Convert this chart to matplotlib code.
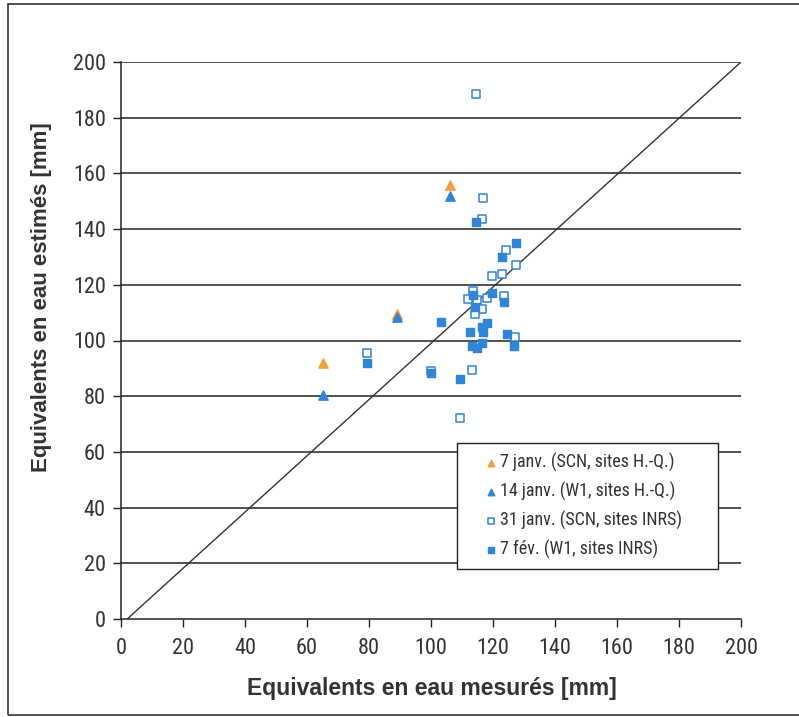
import matplotlib
matplotlib.use('Agg')
import matplotlib.pyplot as plt
from matplotlib.patches import Rectangle
from matplotlib import font_manager

# 7 janv. (SCN, sites H.-Q.)
jan7_x = [65, 89, 106]
jan7_y = [92, 109.5, 156]
# 14 janv. (W1, sites H.-Q.)
jan14_x = [65, 89, 106]
jan14_y = [80.5, 108.5, 152]
# 31 janv. (SCN, sites INRS)
jan31_x = [114.6, 116.9, 116.6, 124.1, 127.4, 119.6, 122.8, 113.6, 112.0, 118.0,
           123.6, 114.9, 116.5, 114.1, 127.1, 79.3, 100.0, 113.1, 109.4]
jan31_y = [188.6, 151.3, 143.5, 132.5, 127.1, 123.3, 123.8, 117.6, 114.9, 115.1,
           116.0, 114.5, 111.2, 109.5, 101.4, 95.4, 89.2, 89.4, 72.3]
# 7 fev. (W1, sites INRS)
feb7_x = [114.5, 127.4, 122.8, 119.6, 113.6, 123.6, 114.2, 103.2, 118.0, 116.4,
          112.6, 116.9, 124.4, 113.1, 114.9, 116.4, 126.9, 79.3, 100.0, 109.4]
feb7_y = [142.7, 135.1, 129.9, 117.0, 116.3, 114.0, 112.1, 106.8, 106.4, 105.0,
          103.2, 102.9, 102.3, 97.9, 97.2, 99.0, 97.9, 91.8, 88.2, 86.2]

labels = ['7 janv. (SCN, sites H.-Q.)', '14 janv. (W1, sites H.-Q.)',
          '31 janv. (SCN, sites INRS)', '7 fév. (W1, sites INRS)']
ticks = list(range(0, 201, 20))

# pick a narrow font if one is around
names = {f.name for f in font_manager.fontManager.ttflist}
narrow = None
for cand in ['Liberation Sans Narrow', 'DejaVu Sans Condensed', 'Roboto Condensed',
             'Open Sans Condensed', 'Noto Sans Condensed']:
    if cand in names:
        narrow = cand
        break
if narrow is None:
    for f in font_manager.fontManager.ttflist:
        if ('Narrow' in f.name or 'Condensed' in f.name) and f.weight in (400, 'normal', 'regular'):
            narrow = f.name
            break
main_font = 'Liberation Sans' if 'Liberation Sans' in names else 'DejaVu Sans'
tick_font = narrow or main_font

orange = '#F0A03C'
blue = '#3284D6'
dark = '#333333'

fig = plt.figure(figsize=(7.99, 7.17), dpi=100)
fig.patches.append(Rectangle((8 / 799, 2 / 717), 1.1, 711 / 717, transform=fig.transFigure,
                             fill=False, edgecolor='#333333', linewidth=1.2, zorder=0))
ax = fig.add_axes([121 / 799, 1 - 619 / 717, 620 / 799, 557 / 717])

for t in ticks[1:]:
    ax.axhline(t, color='#222222', linewidth=1.1, zorder=1)
ax.plot([2, 200], [0, 200], color='#333333', linewidth=1.0, zorder=2)

ax.scatter(jan7_x, jan7_y, marker='^', s=45, color=orange, zorder=4, label=labels[0])
ax.scatter(jan14_x, jan14_y, marker='^', s=45, color=blue, zorder=4, label=labels[1])
ax.scatter(jan31_x, jan31_y, marker='s', s=40, facecolor='white', edgecolor=blue,
           linewidth=1.1, zorder=3, label=labels[2])
ax.scatter(feb7_x, feb7_y, marker='s', s=40, color=blue, zorder=3, label=labels[3])

ax.set_xlim(0, 200)
ax.set_ylim(0, 200)
ax.set_xticks(ticks)
ax.set_yticks(ticks)
for sp in ['top', 'right']:
    ax.spines[sp].set_visible(False)
for sp in ['left', 'bottom']:
    ax.spines[sp].set_color('#222222')
    ax.spines[sp].set_linewidth(1.1)
ax.tick_params(direction='out', length=6, width=1, color='#222222', labelsize=16)
ax.tick_params(axis='x', pad=8)
ax.tick_params(axis='y', pad=5)
for lab in ax.get_xticklabels() + ax.get_yticklabels():
    lab.set_fontfamily(tick_font)
    lab.set_color(dark)

ax.set_xlabel('Equivalents en eau mesurés [mm]', fontsize=16.5, fontweight='bold',
              color=dark, family=main_font)
ax.set_ylabel('Equivalents en eau estimés [mm]', fontsize=16, fontweight='bold',
              color=dark, family=main_font)
ax.xaxis.set_label_coords(0.502, -0.124)
ax.xaxis.label.set_va('center')
ax.yaxis.set_label_coords(-0.128, 0.578)
ax.yaxis.label.set_va('center')

# legend box drawn separately so the padding can match
box = Rectangle((108.4, 18.0), 84.2, 45.2, facecolor='white', edgecolor='#222222',
                linewidth=1.0, zorder=5)
ax.add_patch(box)
leg = ax.legend(loc='center left', bbox_to_anchor=(((486 - 121) / 3.1) / 200, (18.0 + 22.6) / 200),
                frameon=False, fontsize=13, handlelength=0.5, handletextpad=0.3,
                labelspacing=0.55, markerscale=0.7, borderaxespad=0, borderpad=0)
leg.set_zorder(6)
for txt in leg.get_texts():
    txt.set_fontfamily(tick_font)
    txt.set_color(dark)

fig.savefig('out.png', dpi=100)
